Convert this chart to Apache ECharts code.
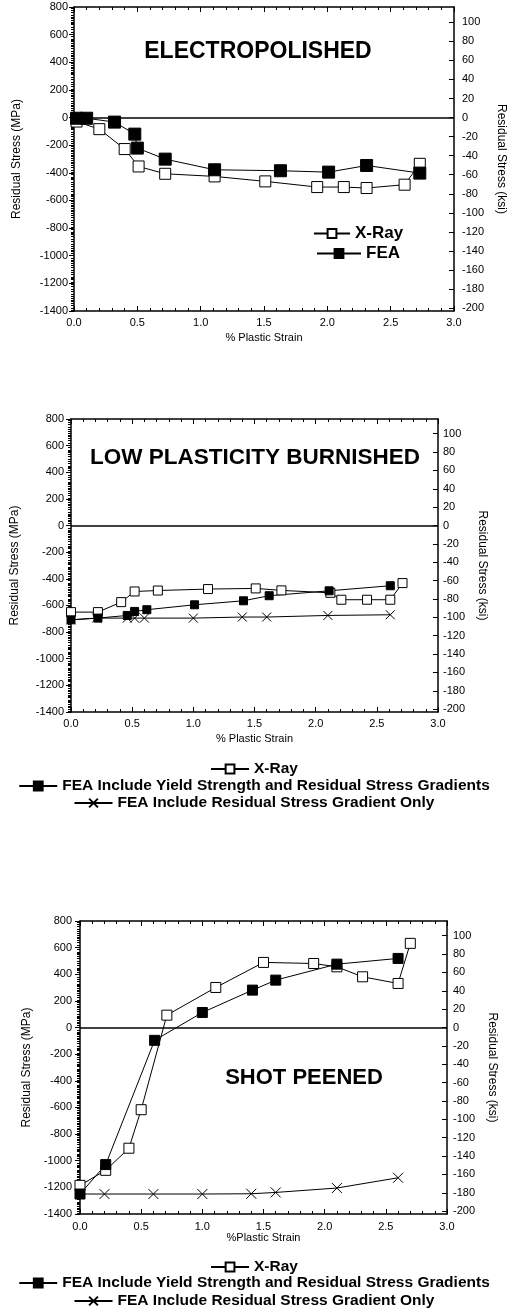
<!DOCTYPE html>
<html>
<head>
<meta charset="utf-8">
<script src="https://cdn.jsdelivr.net/npm/echarts@6/dist/echarts.min.js"></script>
<style>
html,body{margin:0;padding:0;background:#fff;}
#c{width:508px;height:1314px;}
</style>
</head>
<body>
<div id="c"></div>
<script>
// ---------------- DATA ----------------
// Panel 1: Electropolished
const ep_xray_x = [0.02, 0.20, 0.40, 0.51, 0.72, 1.11, 1.51, 1.92, 2.13, 2.31, 2.61, 2.73];
const ep_xray_y = [-29, -84, -228, -354, -407, -426, -462, -503, -503, -510, -486, -335];
const ep_fea_x  = [0.02, 0.10, 0.32, 0.48, 0.50, 0.72, 1.11, 1.63, 2.01, 2.31, 2.73];
const ep_fea_y  = [-5, -5, -33, -120, -221, -301, -378, -385, -395, -347, -402];

// Panel 2: Low plasticity burnished
const lpb_xray_x = [0.00, 0.22, 0.41, 0.52, 0.71, 1.12, 1.51, 1.72, 2.12, 2.21, 2.42, 2.61, 2.71];
const lpb_xray_y = [-650, -650, -575, -495, -488, -477, -472, -487, -505, -557, -557, -557, -432];
const lpb_feay_x = [0.00, 0.22, 0.46, 0.52, 0.62, 1.01, 1.41, 1.62, 2.11, 2.61];
const lpb_feay_y = [-708, -695, -675, -645, -632, -595, -565, -527, -490, -452];
const lpb_fear_x = [0.00, 0.21, 0.46, 0.52, 0.60, 1.00, 1.40, 1.60, 2.10, 2.61];
const lpb_fear_y = [-708, -695, -695, -695, -695, -695, -687, -687, -675, -670];

// Panel 3: Shot peened
const sp_xray_x = [0.00, 0.21, 0.40, 0.50, 0.71, 1.11, 1.50, 1.91, 2.10, 2.31, 2.60, 2.70];
const sp_xray_y = [-1185, -1072, -906, -617, 93, 301, 489, 481, 456, 381, 331, 632];
const sp_feay_x = [0.00, 0.21, 0.61, 1.00, 1.41, 1.60, 2.10, 2.60];
const sp_feay_y = [-1250, -1029, -96, 113, 281, 356, 476, 519];
const sp_fear_x = [0.00, 0.20, 0.60, 1.00, 1.40, 1.60, 2.10, 2.60];
const sp_fear_y = [-1250, -1250, -1250, -1250, -1248, -1238, -1205, -1128];

// Axis ticks / labels
const mpaMin = -1400, mpaMax = 800, mpaStep = 200;
const ksiTicks = [-200, -180, -160, -140, -120, -100, -80, -60, -40, -20, 0, 20, 40, 60, 80, 100];
const xTickStep = 0.5;

const titles = ['ELECTROPOLISHED', 'LOW PLASTICITY BURNISHED', 'SHOT PEENED'];
const nXray = 'X-Ray';
const nFea = 'FEA';
const nFeaY = 'FEA Include Yield Strength and Residual Stress Gradients';
const nFeaR = 'FEA Include Residual Stress Gradient Only';
const xNames = ['% Plastic Strain', '% Plastic Strain', '%Plastic Strain'];
const yNameL = 'Residual Stress (MPa)';
const yNameR = 'Residual Stress (ksi)';

// ---------------- BUILD ----------------
const MPA_PER_KSI = 6.894757;
const ksiMinor = [];
for (let v = -202.5; v <= 116; v += 2.5) ksiMinor.push(v);

const FONT = '"Liberation Sans", Arial, Helvetica, sans-serif';
const zip = (xs, ys) => xs.map((x, i) => [x, ys[i]]);

const layouts = [
  {left: 74, top: 7,   width: 380, height: 304, lGap: 51, rGap: 41, xGap: 21, xLm: 6, yLm: 6, rLm: 8},
  {left: 71, top: 419, width: 367, height: 293, lGap: 50, rGap: 36, xGap: 21, xLm: 6, yLm: 7, rLm: 5},
  {left: 80, top: 921, width: 367, height: 293, lGap: 47, rGap: 37, xGap: 18, xLm: 7, yLm: 8, rLm: 6}
];

const black = '#000';
const axisLineStyle = {show: true, onZero: false, lineStyle: {color: black, width: 1.5}};
const labelStyle = {color: black, fontSize: 11, fontFamily: FONT};
const nameStyle = {color: black, fontSize: 12, fontFamily: FONT};

const grid = [], xAxis = [], yAxis = [];
layouts.forEach((L, g) => {
  grid.push({left: L.left, top: L.top, width: L.width, height: L.height, show: false,
             containLabel: false, outerBoundsMode: 'none'});
  // bottom x axis
  xAxis.push({
    gridIndex: g, type: 'value', min: 0, max: 3, interval: xTickStep, position: 'bottom',
    axisLine: axisLineStyle,
    axisTick: {show: true, inside: true, length: 5, lineStyle: {color: black, width: 1}},
    minorTick: {show: true, splitNumber: 5, length: 3, lineStyle: {color: black, width: 1}},
    splitLine: {show: false},
    axisLabel: Object.assign({margin: L.xLm, formatter: v => v.toFixed(1)}, labelStyle),
    name: xNames[g], nameLocation: 'middle', nameGap: L.xGap,
    nameTextStyle: Object.assign({}, nameStyle, {fontSize: 11})
  });
  // top x axis (ticks only)
  xAxis.push({
    gridIndex: g, type: 'value', min: 0, max: 3, interval: xTickStep, position: 'top',
    axisLine: axisLineStyle,
    axisTick: {show: true, inside: true, length: 5, lineStyle: {color: black, width: 1}},
    minorTick: {show: true, splitNumber: 5, length: 3, lineStyle: {color: black, width: 1}},
    splitLine: {show: false}, axisLabel: {show: false}
  });
  // left MPa axis
  yAxis.push({
    gridIndex: g, type: 'value', min: mpaMin, max: mpaMax, interval: mpaStep, position: 'left',
    axisLine: axisLineStyle,
    axisTick: {show: true, length: 5, lineStyle: {color: black, width: 1}},
    minorTick: {show: true, splitNumber: 5, length: 3, lineStyle: {color: black, width: 1}},
    splitLine: {show: false},
    axisLabel: Object.assign({margin: L.yLm, formatter: v => String(v)}, labelStyle),
    name: yNameL, nameLocation: 'middle', nameRotate: 90, nameGap: L.lGap, nameTextStyle: nameStyle
  });
  // right ksi axis (major)
  yAxis.push({
    gridIndex: g, type: 'value', min: mpaMin / MPA_PER_KSI, max: mpaMax / MPA_PER_KSI, position: 'right',
    axisLine: axisLineStyle,
    axisTick: {show: true, inside: true, length: 5, customValues: ksiTicks, lineStyle: {color: black, width: 1}},
    splitLine: {show: false},
    axisLabel: Object.assign({margin: L.rLm, customValues: ksiTicks, formatter: v => String(v)}, labelStyle),
    name: yNameR, nameLocation: 'middle', nameRotate: -90, nameGap: L.rGap, nameTextStyle: nameStyle
  });
  // right ksi axis (minor ticks)
  yAxis.push({
    gridIndex: g, type: 'value', min: mpaMin / MPA_PER_KSI, max: mpaMax / MPA_PER_KSI, position: 'right',
    axisLine: {show: false},
    axisTick: {show: true, inside: true, length: 3, customValues: ksiMinor, lineStyle: {color: black, width: 1}},
    splitLine: {show: false}, axisLabel: {show: false}
  });
});

const zeroLine = {
  silent: true, symbol: ['none', 'none'], label: {show: false},
  lineStyle: {color: black, width: 1.5, type: 'solid'},
  data: [{yAxis: 0}]
};

const openSq = {color: '#fff', borderColor: black, borderWidth: 1};
const fillSq = {color: black, borderColor: black, borderWidth: 1};
const crossSym = 'path://M0,0L10,10M0,10L10,0';
const crossStyle = {color: 'transparent', borderColor: black, borderWidth: 1};

function ser(name, g, data, symbol, size, itemStyle, extra) {
  return Object.assign({
    name, type: 'line', xAxisIndex: g * 2, yAxisIndex: g * 3, data,
    symbol, symbolSize: size, showSymbol: true, itemStyle,
    lineStyle: {color: black, width: 1}, z: 3, animation: false
  }, extra || {});
}

const series = [
  ser(nXray, 0, zip(ep_xray_x, ep_xray_y), 'rect', 11, openSq, {markLine: zeroLine}),
  ser(nFea, 0, zip(ep_fea_x, ep_fea_y), 'rect', 12, fillSq),

  ser(nXray, 1, zip(lpb_xray_x, lpb_xray_y), 'rect', 9, openSq, {markLine: zeroLine}),
  ser(nFeaR, 1, zip(lpb_fear_x, lpb_fear_y), crossSym, 9, crossStyle),
  ser(nFeaY, 1, zip(lpb_feay_x, lpb_feay_y), 'rect', 8, fillSq),

  ser(nXray, 2, zip(sp_xray_x, sp_xray_y), 'rect', 10, openSq, {markLine: zeroLine}),
  ser(nFeaR, 2, zip(sp_fear_x, sp_fear_y), crossSym, 10, crossStyle),
  ser(nFeaY, 2, zip(sp_feay_x, sp_feay_y), 'rect', 10, fillSq)
];

const legTxt = {color: black, fontWeight: 'bold', fontSize: 15.5, fontFamily: FONT};
function leg(name, top, left, w) {
  return {data: [name], top, left, itemWidth: w, itemHeight: 11, itemGap: 0, padding: 0,
          selectedMode: false, textStyle: legTxt};
}
const legend = [
  leg(nXray, 225, 313, 36), leg(nFea, 245, 316, 44),
  leg(nXray, 761, 'center', 38), leg(nFeaY, 778, 'center', 38), leg(nFeaR, 795, 'center', 38),
  leg(nXray, 1259, 'center', 38), leg(nFeaY, 1275, 'center', 38), leg(nFeaR, 1293, 'center', 38)
];
legend[0].textStyle = Object.assign({}, legTxt, {fontSize: 17});
legend[1].textStyle = Object.assign({}, legTxt, {fontSize: 17});

const titlePos = [[258, 52, 23], [255, 458, 22.5], [304, 1078, 22]];
const graphic = titles.map((t, i) => ({
  type: 'text', x: titlePos[i][0], y: titlePos[i][1], z: 10,
  style: {text: t, align: 'center', verticalAlign: 'middle', fill: black,
          font: 'bold ' + titlePos[i][2] + 'px ' + FONT}
}));

const chart = echarts.init(document.getElementById('c'), null, {renderer: 'canvas'});
chart.setOption({
  backgroundColor: '#fff',
  animation: false,
  grid, xAxis, yAxis, series, legend, graphic
});
</script>
</body>
</html>
